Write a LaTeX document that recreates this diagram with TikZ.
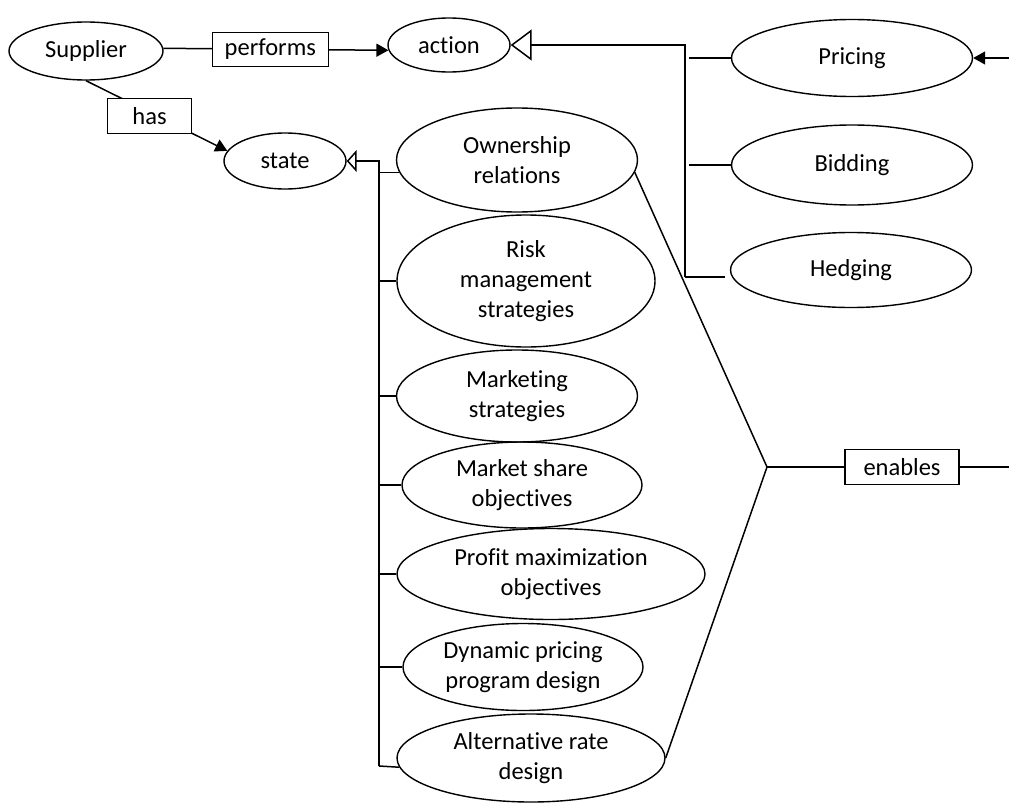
\documentclass[tikz,border=0pt]{standalone}
\usepackage{fontspec}
\setmainfont{Carlito}[RawFeature={-liga;-clig;-calt;-dlig}]
\usetikzlibrary{shapes.geometric,arrows.meta}

\tikzset{
  conn/.style={line width=1.5pt, line join=miter},
  ell/.style={draw, ellipse, line width=1.4pt, inner sep=0pt, align=center,
    font=\fontsize{24.5}{30}\selectfont},
  relbox/.style={draw, fill=white, rectangle, line width=1.4pt, inner sep=0pt,
    font=\fontsize{24.5}{30}\selectfont},
  fillhead/.style={-{Triangle[length=12pt,width=13pt]}},
}

\begin{document}
\begin{tikzpicture}[x=1pt,y=-1pt]
\useasboundingbox (0,0) rectangle (1009,803);

% entities
\node[ell, minimum width=154, minimum height=58] (sup) at (86,51) {Supplier};
\node[ell, minimum width=122, minimum height=54] (act) at (449,45) {action};
\node[ell, minimum width=122, minimum height=56] (state) at (285,161) {state};

% kinds of action
\node[ell, minimum width=241, minimum height=77] (pric) at (852,58) {Pricing};
\node[ell, minimum width=241, minimum height=80] (bid) at (852,165) {Bidding};
\node[ell, minimum width=241, minimum height=75] (hedg) at (851,270) {Hedging};

% kinds of state
\node[ell, minimum width=241, minimum height=104] (own) at (517,160) {Ownership\\relations};
\node[ell, minimum width=258, minimum height=132] (risk) at (526,281) {Risk\\management\\strategies};
\node[ell, minimum width=241, minimum height=92] (mkt) at (517,396) {Marketing\\strategies};
\node[ell, minimum width=240, minimum height=86] (mshare) at (522,485) {Market share\\objectives};
\node[ell, minimum width=308, minimum height=91] (profit) at (551,574) {Profit maximization\\objectives};
\node[ell, minimum width=240, minimum height=87] (dyn) at (523,667) {Dynamic pricing\\program design};
\node[ell, minimum width=268, minimum height=88] (alt) at (531,758) {Alternative rate\\design};

% junction points
\coordinate (ajn) at (685,45);
\coordinate (ajb) at (685,277);
\coordinate (sjn) at (379,161);
\coordinate (sjb) at (379,766);
\coordinate (jn) at (767,467);
\coordinate (rend) at (1009,467);
\coordinate (pin) at (1009,58);

% relations of the supplier
\draw[conn, fillhead] (sup.2) -- (act.185)
  node[relbox, pos=0.475, minimum width=116, minimum height=34] (perf) {performs};
\draw[conn, fillhead] (sup.south) -- (state.170)
  node[relbox, pos=0.45, yshift=-4pt, minimum width=84, minimum height=35] (has) {has};

% action generalisation tree
\draw[conn, {Triangle[open,length=21pt,width=31pt]}-] (act.east) -- (ajn) -- (ajb);
\draw[conn] ([xshift=4pt]ajn |- pric.west) -- (pric.west);
\draw[conn] ([xshift=4pt]ajn |- bid.west) -- (bid.west);
\draw[conn, shorten >=5pt] (ajb) -- (ajb -| hedg.west);
\draw[conn, fillhead] (pin) -- (pric.east);

% state generalisation tree
\draw[conn, {Triangle[open,length=10pt,width=22pt]}-] (state.east) -- (sjn) -- (sjb);
\draw[conn] (sjn |- own.186) -- (own.186);
\draw[conn] (sjn |- risk.west) -- (risk.west);
\draw[conn] (sjn |- mkt.west) -- (mkt.west);
\draw[conn] (sjn |- mshare.west) -- (mshare.west);
\draw[conn] (sjn |- profit.west) -- (profit.west);
\draw[conn] (sjn |- dyn.west) -- (dyn.west);
\draw[conn] (sjb) -- (alt.184);

% enables relation
\draw[conn] (own.-6) -- (jn) -- (alt.east);
\draw[conn] (jn) -- (rend)
  node[relbox, pos=0.558, minimum width=114, minimum height=35] (enab) {enables};
\end{tikzpicture}
\end{document}
